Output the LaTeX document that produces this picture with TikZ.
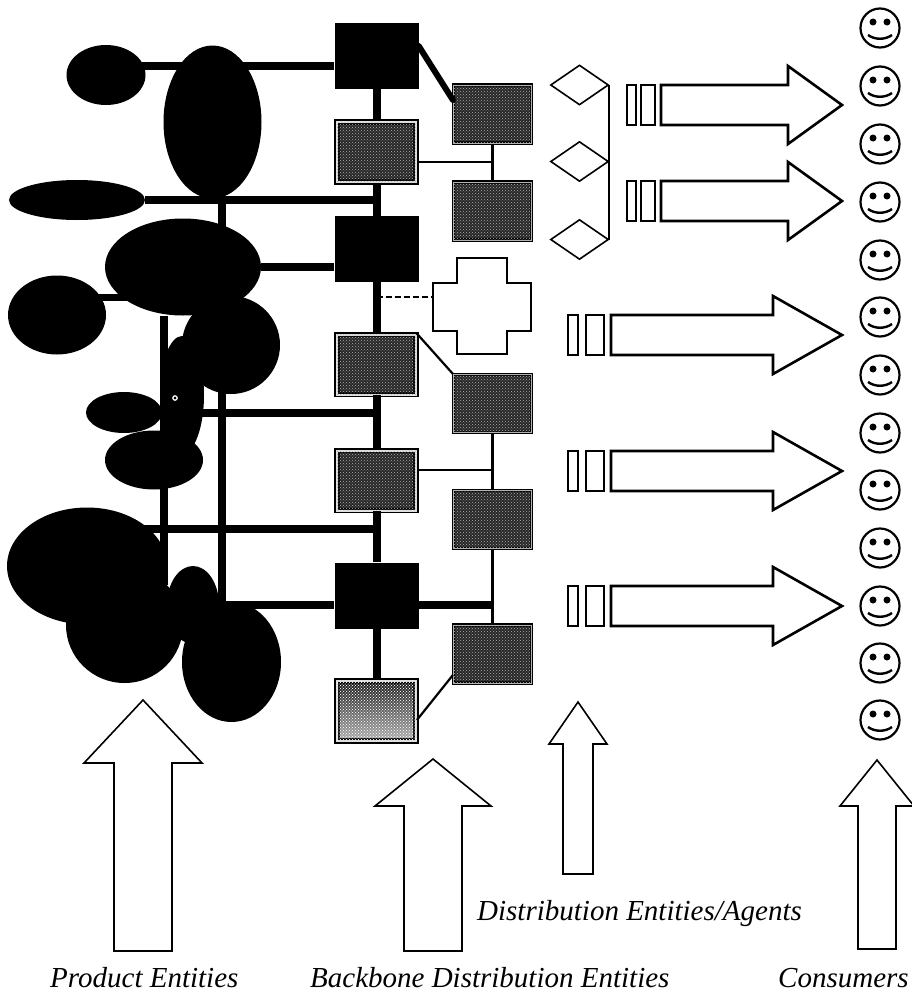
\documentclass[tikz,border=0pt]{standalone}
\usepackage{fontspec}
\setmainfont{Liberation Serif}
\usetikzlibrary{shapes.geometric,patterns}

\tikzset{
    blob/.style={ellipse, fill=black, inner sep=0pt},
    solidbox/.style={rectangle, fill=black, inner sep=0pt, minimum width=84pt, minimum height=66pt},
    hatchbox/.style={rectangle, draw=black, inner sep=0pt, minimum width=79pt, minimum height=60pt,
        line width=1.8pt, double=black!12, double distance=2pt, fill=black!85,
        postaction={pattern=crosshatch dots, pattern color=white!70!black}},
    agentbox/.style={hatchbox, minimum width=78pt, minimum height=58pt, line width=1.2pt, double=black!30, double distance=1pt},
    fadebox/.style={hatchbox, top color=black!90, bottom color=black!30,
        postaction={pattern=crosshatch dots, pattern color=white}},
    choice/.style={diamond, draw=black, line width=1.6pt, fill=white, inner sep=0pt, aspect=1.45, minimum width=58pt, minimum height=40pt},
    face/.style={circle, draw=black, line width=2.2pt, inner sep=0pt, minimum size=39pt},
    fatarrow/.style={draw=black, line width=1.6pt, fill=white, line join=miter},
    sidearrow/.style={draw=black, line width=2.6pt, fill=white, line join=miter},
    trunk/.style={draw=black, line width=8pt},
    link/.style={draw=black, line width=7.5pt},
    feeder/.style={draw=black, line width=8pt},
    branch/.style={draw=black, line width=2.2pt},
    caption/.style={anchor=base west, inner sep=0pt, font=\fontsize{29}{33}\selectfont\itshape}
}

\begin{document}
\begin{tikzpicture}[x=1pt, y=-1pt]
    \useasboundingbox (0,0) rectangle (911,996);
    % Product entities
    \foreach \name/\x/\y/\w/\h in {ea/106/75/79/60, eb/212.5/122/98/153, ec/77/200/136/40, ed/183/267/156/97,
        ee/57/315/98/79, ef/231/345/98/98, eg/182/395/44/118, eh/124/412.5/76/41, ei/154/460/98/59,
        ej/87/566/160/117, ek/124.5/625/117/116, el/193/605/52/78, em/231.5/662/99/120} {
        \node[blob, minimum width=\w pt, minimum height=\h pt] (\name) at (\x,\y) {};
    }
    \draw[white, line width=1.2pt] (175,398) circle (2.2);
    % Backbone column
    \node[solidbox] (sqa) at (376.5,56) {};
    \node[hatchbox] (sqb) at (376.5,152) {};
    \node[solidbox] (sqc) at (376.5,249) {};
    \node[hatchbox] (sqd) at (376.5,364.5) {};
    \node[hatchbox] (sqe) at (376.5,480.5) {};
    \node[solidbox] (sqf) at (376.5,595.5) {};
    \node[fadebox] (sqg) at (376.5,711) {};
    % Distribution column
    \node[agentbox] (boxa) at (492.5,114) {};
    \node[agentbox] (boxb) at (492.5,211) {};
    \node[agentbox] (boxc) at (492.5,403.5) {};
    \node[agentbox] (boxd) at (492.5,519.5) {};
    \node[agentbox] (boxe) at (492.5,654) {};
    \node[choice] (dia) at (579.5,85) {};
    \node[choice] (dib) at (579.5,161.5) {};
    \node[choice] (dic) at (579.5,239.5) {};
    % Free ends on the lines
    \coordinate (busa) at (376.5,201);
    \coordinate (busb) at (376.5,412.5);
    \coordinate (busc) at (376.5,529);
    \coordinate (busd) at (376.5,297);
    \coordinate (toplink) at (222,198);
    \coordinate (lowlink) at (222,605);
    \coordinate (sidetop) at (164,316);
    \coordinate (sidelow) at (164,585);
    \coordinate (crossw) at (433,297);
    \coordinate (stema) at (492,162);
    \coordinate (stemb) at (492,470);
    \coordinate (stemc) at (492,605);
    % Connections
    \foreach \a/\b in {sqa/sqb, sqb/sqc, sqc/sqd, sqd/sqe, sqe/sqf, sqf/sqg} {
        \draw[trunk] (\a) -- (\b);
    }
    \draw[link] (ea |- 0,66) -- (sqa.west |- 0,66);
    \draw[feeder] (ec) -- (ec -| busa);
    \draw[feeder] (ed) -- (sqc.west |- ed);
    \draw[link] (ee |- 0,297.5) -- (ed |- 0,297.5);
    \draw[feeder] (toplink) -- (lowlink);
    \draw[feeder] (sidetop) -- (sidelow);
    \draw[feeder] (eg |- busb) -- (busb);
    \draw[feeder] (ej |- busc) -- (busc);
    \draw[feeder] (lowlink) -- (sqf.west |- lowlink);
    \draw[feeder] (sqf.east |- stemc) -- (stemc);
    \draw[black, line width=6pt, line cap=round] (sqa.east |- 0,46) -- (boxa.west |- 0,100);
    \draw[branch] (sqb.east |- stema) -- (stema);
    \draw[branch] (boxa) -- (boxb);
    \draw[branch] (sqd.north east) -- (boxc.north west);
    \draw[branch] (sqe.east |- stemb) -- (stemb);
    \draw[branch] (boxc) -- (boxd);
    \draw[branch] (boxd) -- (boxe);
    \draw[branch] (sqg.east |- 0,720) -- (boxe.west |- 0,675);
    \draw[branch] (dia.east) -- (dic.east);
    \draw[branch, dashed, dash pattern=on 6pt off 3pt] (busd) -- (crossw);
    % Open cross
    \draw[fatarrow] (433,283) -- (457,283) -- (457,258) -- (507,258) -- (507,283) -- (531,283) -- (531,331)
        -- (507,331) -- (507,354) -- (457,354) -- (457,331) -- (433,331) -- cycle;
    % Arrows to the consumers
    \foreach \bara/\barb/\barc/\bard/\start/\neck/\y in {627/636/641/655/661/788/105, 627/636/641/655/661/788/201,
        568/578/586/604/611/773/335, 568/578/586/604/611/773/471, 568/578/586/604/611/773/606} {
        \draw[fatarrow] (\bara,\y-20) rectangle (\barb,\y+20);
        \draw[fatarrow] (\barc,\y-20) rectangle (\bard,\y+20);
        \draw[sidearrow] (\start,\y-20) -- (\neck,\y-20) -- (\neck,\y-39) -- (842,\y) -- (\neck,\y+39)
            -- (\neck,\y+20) -- (\start,\y+20) -- cycle;
    }
    % Arrows up to the columns
    \foreach \tipx/\tipy/\base/\wing/\half/\low in {143/700/763/59/29/951, 433/759/806/58/29/951,
        578/702/744/29/15/874, 877/760/806/37/19/949} {
        \draw[fatarrow] (\tipx,\tipy) -- (\tipx+\wing,\base) -- (\tipx+\half,\base) -- (\tipx+\half,\low)
            -- (\tipx-\half,\low) -- (\tipx-\half,\base) -- (\tipx-\wing,\base) -- cycle;
    }
    % Consumers
    \foreach \y [count=\i] in {28,86,144,202,260,317,375,433,490,548,606,663,720} {
        \node[face] (face\i) at (880,\y) {};
        \fill (880-7,\y-6) circle (3.5);
        \fill (880+7,\y-6) circle (3.5);
        \draw[line width=2.4pt] (880-12,\y+7) .. controls (880-5,\y+12) and (880+5,\y+12) .. (880+12,\y+7);
    }
    % Labels
    \node[caption] (prodlabel) at (50,987) {Product Entities};
    \node[caption] (backlabel) at (310,987) {Backbone Distribution Entities};
    \node[caption] (distlabel) at (477,920) {Distribution Entities/Agents};
    \node[caption] (conslabel) at (778,987) {Consumers};
\end{tikzpicture}
\end{document}
